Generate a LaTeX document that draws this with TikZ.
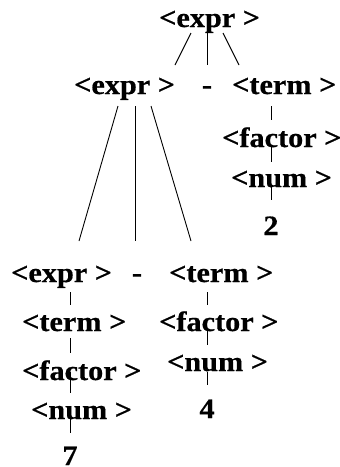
\documentclass[tikz,border=0pt]{standalone}
\usepackage{fontspec}
\setmainfont{Liberation Serif}[FakeStretch=1.08,BoldFeatures={FakeBold=0.6}]
\begin{document}
\begin{tikzpicture}[x=1pt,y=-1pt,
  lab/.style={inner sep=0pt,anchor=base west,font=\fontsize{28}{30}\selectfont\bfseries},
  labc/.style={inner sep=0pt,anchor=base,font=\fontsize{28}{30}\selectfont\bfseries},
  edge/.style={draw=black,line width=0.9pt}]
\useasboundingbox (0,0) rectangle (340,467);
% nodes
\node[lab]  (e1) at (159,27)  {<expr >};
\node[lab]  (e2) at (74,94)   {<expr >};
\node[labc] (m2) at (207,94)  {-};
\node[lab]  (t2) at (232,94)  {<term >};
\node[lab]  (f2) at (222,147) {<factor >};
\node[lab]  (n2) at (231,187) {<num >};
\node[labc] (d2) at (271,235) {2};
\node[lab]  (e3) at (11,282)  {<expr >};
\node[labc] (m3) at (137,282) {-};
\node[lab]  (t3) at (169,282) {<term >};
\node[lab]  (t4) at (22,331)  {<term >};
\node[lab]  (f4) at (159,331) {<factor >};
\node[lab]  (f5) at (22,380)  {<factor >};
\node[lab]  (n5) at (167,371) {<num >};
\node[lab]  (n6) at (31,419)  {<num >};
\node[labc] (d4) at (207,418) {4};
\node[labc] (d7) at (70,465)  {7};
% connector end points
\coordinate (e1a) at (191,33);  \coordinate (e2a) at (175,65);
\coordinate (e1b) at (207,33);  \coordinate (m2a) at (207,65);
\coordinate (e1c) at (223,33);  \coordinate (t2a) at (239,65);
\coordinate (t2b) at (271,106); \coordinate (f2a) at (271,120);
\coordinate (f2b) at (271,147); \coordinate (n2a) at (271,162);
\coordinate (n2b) at (271,187); \coordinate (d2a) at (271,200);
\coordinate (e2b) at (118,106); \coordinate (e3a) at (79,241);
\coordinate (e2c) at (135,106); \coordinate (m3a) at (135,241);
\coordinate (e2d) at (151,106); \coordinate (t3a) at (191,241);
\coordinate (e3b) at (70,292);  \coordinate (t4a) at (70,305);
\coordinate (t3b) at (207,292); \coordinate (f4a) at (207,305);
\coordinate (t4b) at (70,338);  \coordinate (f5a) at (70,353);
\coordinate (f4b) at (207,330); \coordinate (n5a) at (207,345);
\coordinate (f5b) at (70,372);  \coordinate (n6a) at (70,393);
\coordinate (n5b) at (207,372); \coordinate (d4a) at (207,385);
\coordinate (n6b) at (70,413);  \coordinate (d7a) at (70,433);
% connectors
\draw[edge] (e1a) -- (e2a);
\draw[edge] (e1b) -- (m2a);
\draw[edge] (e1c) -- (t2a);
\draw[edge] (t2b) -- (f2a);
\draw[edge] (f2b) -- (n2a);
\draw[edge] (n2b) -- (d2a);
\draw[edge] (e2b) -- (e3a);
\draw[edge] (e2c) -- (m3a);
\draw[edge] (e2d) -- (t3a);
\draw[edge] (e3b) -- (t4a);
\draw[edge] (t3b) -- (f4a);
\draw[edge] (t4b) -- (f5a);
\draw[edge] (f4b) -- (n5a);
\draw[edge] (f5b) -- (n6a);
\draw[edge] (n5b) -- (d4a);
\draw[edge] (n6b) -- (d7a);
\end{tikzpicture}
\end{document}
